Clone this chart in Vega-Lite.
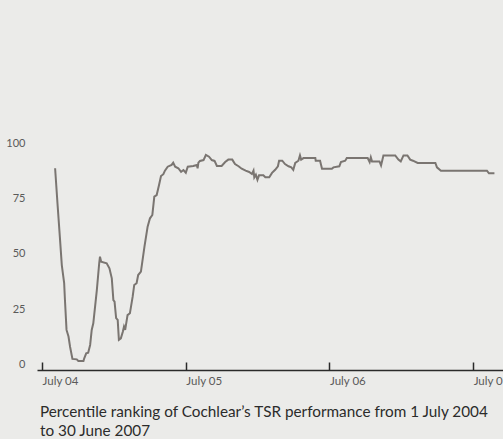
{
  "$schema": "https://vega.github.io/schema/vega-lite/v6.json",
  "width": 472,
  "height": 227,
  "autosize": {"type": "none"},
  "padding": {"left": 37, "top": 143, "right": 0, "bottom": 69},
  "background": "#ebebe9",
  "config": {"view": {"stroke": null}, "font": "Lato"},
  "title": {
    "text": ["Percentile ranking of Cochlear’s TSR performance from 1 July 2004", "to 30 June 2007"],
    "orient": "bottom",
    "anchor": "start",
    "frame": "group",
    "fontSize": 15.3,
    "fontWeight": "normal",
    "font": "Lato",
    "color": "#2b2b2b",
    "lineHeight": 19,
    "offset": 18,
    "dx": 3
  },
  "data": {
    "values": [
      {"date": "2004-08-03", "pct": 88.6},
      {"date": "2004-08-09", "pct": 72.8},
      {"date": "2004-08-15", "pct": 57.7},
      {"date": "2004-08-20", "pct": 44.9},
      {"date": "2004-08-26", "pct": 36.7},
      {"date": "2004-08-28", "pct": 29.1},
      {"date": "2004-09-01", "pct": 15.6},
      {"date": "2004-09-06", "pct": 12.6},
      {"date": "2004-09-10", "pct": 8.0},
      {"date": "2004-09-16", "pct": 2.5},
      {"date": "2004-09-27", "pct": 2.3},
      {"date": "2004-10-01", "pct": 1.6},
      {"date": "2004-10-14", "pct": 1.6},
      {"date": "2004-10-16", "pct": 2.8},
      {"date": "2004-10-21", "pct": 5.0},
      {"date": "2004-10-26", "pct": 5.3},
      {"date": "2004-10-31", "pct": 8.8},
      {"date": "2004-11-04", "pct": 15.6},
      {"date": "2004-11-08", "pct": 18.6},
      {"date": "2004-11-17", "pct": 33.6},
      {"date": "2004-11-23", "pct": 45.7},
      {"date": "2004-11-25", "pct": 48.7},
      {"date": "2004-11-28", "pct": 46.4},
      {"date": "2004-12-12", "pct": 45.7},
      {"date": "2004-12-19", "pct": 43.4},
      {"date": "2004-12-25", "pct": 38.9},
      {"date": "2004-12-29", "pct": 29.1},
      {"date": "2005-01-01", "pct": 28.4},
      {"date": "2005-01-05", "pct": 20.9},
      {"date": "2005-01-09", "pct": 20.1},
      {"date": "2005-01-12", "pct": 11.1},
      {"date": "2005-01-17", "pct": 11.8},
      {"date": "2005-01-22", "pct": 14.8},
      {"date": "2005-01-25", "pct": 17.1},
      {"date": "2005-01-28", "pct": 15.6},
      {"date": "2005-02-03", "pct": 22.3},
      {"date": "2005-02-09", "pct": 23.1},
      {"date": "2005-02-16", "pct": 30.6},
      {"date": "2005-02-20", "pct": 35.9},
      {"date": "2005-02-26", "pct": 36.7},
      {"date": "2005-03-02", "pct": 40.4},
      {"date": "2005-03-09", "pct": 41.9},
      {"date": "2005-03-18", "pct": 53.2},
      {"date": "2005-03-26", "pct": 62.2},
      {"date": "2005-04-01", "pct": 66.0},
      {"date": "2005-04-07", "pct": 67.5},
      {"date": "2005-04-12", "pct": 75.8},
      {"date": "2005-04-18", "pct": 76.5},
      {"date": "2005-04-24", "pct": 81.0},
      {"date": "2005-04-29", "pct": 85.1},
      {"date": "2005-05-05", "pct": 85.9},
      {"date": "2005-05-09", "pct": 87.5},
      {"date": "2005-05-16", "pct": 89.3},
      {"date": "2005-05-26", "pct": 90.1},
      {"date": "2005-05-30", "pct": 91.1},
      {"date": "2005-06-04", "pct": 89.3},
      {"date": "2005-06-12", "pct": 88.6},
      {"date": "2005-06-19", "pct": 87.0},
      {"date": "2005-06-25", "pct": 87.8},
      {"date": "2005-07-01", "pct": 86.6},
      {"date": "2005-07-06", "pct": 89.3},
      {"date": "2005-07-20", "pct": 89.6},
      {"date": "2005-07-29", "pct": 90.1},
      {"date": "2005-07-31", "pct": 88.6},
      {"date": "2005-08-02", "pct": 91.1},
      {"date": "2005-08-06", "pct": 91.9},
      {"date": "2005-08-15", "pct": 92.3},
      {"date": "2005-08-21", "pct": 94.6},
      {"date": "2005-08-29", "pct": 93.8},
      {"date": "2005-09-05", "pct": 92.3},
      {"date": "2005-09-12", "pct": 91.9},
      {"date": "2005-09-18", "pct": 89.6},
      {"date": "2005-09-30", "pct": 89.6},
      {"date": "2005-10-09", "pct": 91.4},
      {"date": "2005-10-17", "pct": 92.5},
      {"date": "2005-10-27", "pct": 92.5},
      {"date": "2005-11-03", "pct": 90.5},
      {"date": "2005-11-12", "pct": 89.5},
      {"date": "2005-11-20", "pct": 88.4},
      {"date": "2005-11-30", "pct": 87.5},
      {"date": "2005-12-09", "pct": 86.9},
      {"date": "2005-12-16", "pct": 86.0},
      {"date": "2005-12-20", "pct": 87.5},
      {"date": "2005-12-22", "pct": 84.5},
      {"date": "2005-12-26", "pct": 85.7},
      {"date": "2005-12-30", "pct": 83.4},
      {"date": "2006-01-03", "pct": 85.4},
      {"date": "2006-01-14", "pct": 85.4},
      {"date": "2006-01-19", "pct": 84.5},
      {"date": "2006-01-29", "pct": 84.5},
      {"date": "2006-02-05", "pct": 86.5},
      {"date": "2006-02-13", "pct": 87.9},
      {"date": "2006-02-20", "pct": 89.5},
      {"date": "2006-02-23", "pct": 92.0},
      {"date": "2006-03-03", "pct": 92.0},
      {"date": "2006-03-10", "pct": 90.5},
      {"date": "2006-03-19", "pct": 89.5},
      {"date": "2006-03-26", "pct": 89.0},
      {"date": "2006-03-31", "pct": 87.9},
      {"date": "2006-04-05", "pct": 91.0},
      {"date": "2006-04-13", "pct": 92.0},
      {"date": "2006-04-17", "pct": 94.4},
      {"date": "2006-04-20", "pct": 92.5},
      {"date": "2006-04-26", "pct": 93.2},
      {"date": "2006-05-26", "pct": 93.2},
      {"date": "2006-05-27", "pct": 92.0},
      {"date": "2006-06-07", "pct": 92.0},
      {"date": "2006-06-12", "pct": 88.4},
      {"date": "2006-07-07", "pct": 88.4},
      {"date": "2006-07-11", "pct": 89.0},
      {"date": "2006-07-26", "pct": 89.5},
      {"date": "2006-07-30", "pct": 91.4},
      {"date": "2006-08-10", "pct": 92.0},
      {"date": "2006-08-14", "pct": 93.2},
      {"date": "2006-10-06", "pct": 93.2},
      {"date": "2006-10-11", "pct": 91.4},
      {"date": "2006-10-14", "pct": 93.5},
      {"date": "2006-10-17", "pct": 91.7},
      {"date": "2006-11-05", "pct": 91.7},
      {"date": "2006-11-09", "pct": 89.9},
      {"date": "2006-11-15", "pct": 94.4},
      {"date": "2006-12-15", "pct": 94.4},
      {"date": "2006-12-23", "pct": 92.5},
      {"date": "2006-12-29", "pct": 91.7},
      {"date": "2007-01-05", "pct": 94.4},
      {"date": "2007-01-15", "pct": 94.4},
      {"date": "2007-01-22", "pct": 92.5},
      {"date": "2007-01-29", "pct": 92.0},
      {"date": "2007-02-10", "pct": 91.0},
      {"date": "2007-03-27", "pct": 91.0},
      {"date": "2007-03-31", "pct": 89.0},
      {"date": "2007-04-10", "pct": 87.5},
      {"date": "2007-08-05", "pct": 87.5},
      {"date": "2007-08-10", "pct": 86.3},
      {"date": "2007-08-24", "pct": 86.3}
    ]
  },
  "mark": {"type": "line", "color": "#7a7571", "strokeWidth": 2, "interpolate": "linear"},
  "encoding": {
    "x": {
      "field": "date",
      "type": "temporal",
      "scale": {
        "type": "utc",
        "domain": [
          {"year": 2004, "month": 6, "date": 18, "utc": true},
          {"year": 2007, "month": 9, "date": 30, "utc": true}
        ],
        "nice": false
      },
      "axis": {
        "title": null,
        "values": [
          {"year": 2004, "month": 7, "date": 1, "utc": true},
          {"year": 2005, "month": 7, "date": 1, "utc": true},
          {"year": 2006, "month": 7, "date": 1, "utc": true},
          {"year": 2007, "month": 7, "date": 1, "utc": true}
        ],
        "format": "%B %y",
        "grid": false,
        "domainColor": "#2a2a2a",
        "domainWidth": 1.5,
        "tickColor": "#2a2a2a",
        "tickWidth": 1.5,
        "tickSize": -8,
        "labelAlign": "left",
        "labelDx": -5,
        "labelPadding": 13,
        "labelFontSize": 11.5,
        "labelColor": "#5a5a5a",
        "labelFont": "Lato",
        "labelFlush": false
      }
    },
    "y": {
      "field": "pct",
      "type": "quantitative",
      "scale": {"domain": [-2.5, 100], "nice": false, "zero": false},
      "axis": {
        "title": null,
        "values": [0, 25, 50, 75, 100],
        "domain": false,
        "ticks": false,
        "tickSize": 0,
        "grid": false,
        "labelPadding": 12,
        "labelFontSize": 11,
        "labelColor": "#5a5a5a",
        "labelFont": "Lato"
      }
    }
  }
}
